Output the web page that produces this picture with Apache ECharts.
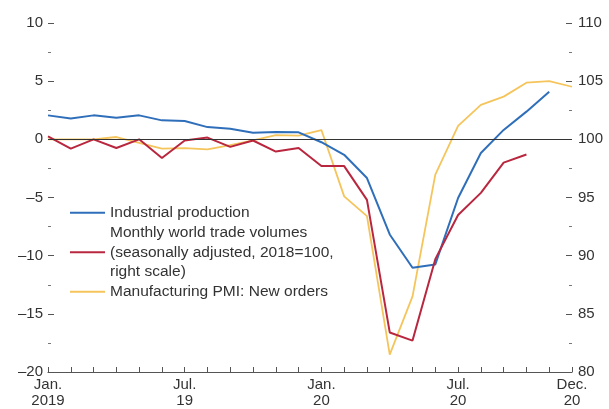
<!DOCTYPE html>
<html>
<head>
<meta charset="utf-8">
<script src="https://cdn.jsdelivr.net/npm/echarts@6/dist/echarts.min.js"></script>
<style>
html,body{margin:0;padding:0;background:#fff;}
#c{width:609px;height:409px;}
</style>
</head>
<body>
<div id="c"></div>
<script>
// Categories: Jan 2019 .. Dec 2020 (monthly)
var months = ['2019-01','2019-02','2019-03','2019-04','2019-05','2019-06','2019-07','2019-08','2019-09','2019-10','2019-11','2019-12',
              '2020-01','2020-02','2020-03','2020-04','2020-05','2020-06','2020-07','2020-08','2020-09','2020-10','2020-11','2020-12'];
// Tick labels shown on the x axis (by category index)
var xTickLabels = {0:'Jan.\n2019', 6:'Jul.\n19', 12:'Jan.\n20', 18:'Jul.\n20', 23:'Dec.\n20'};
// Series values
var industrial = [2.06,1.8,2.06,1.86,2.06,1.63,1.57,1.05,0.91,0.57,0.63,0.6,-0.25,-1.33,-3.33,-8.18,-11.04,-10.75,-5.04,-1.18,0.81,2.38,4.1,null];
var trade = [100.25,99.2,100,99.25,100,98.4,99.9,100.15,99.35,99.9,98.95,99.25,97.7,97.7,94.8,83.4,82.7,89.7,93.5,95.4,98.0,98.7,null,null];
var pmi = [0,0,0,0.2,-0.3,-0.8,-0.75,-0.86,-0.5,-0.1,0.37,0.32,0.8,-4.9,-6.6,-18.5,-13.5,-3.04,1.16,2.96,3.67,4.87,5.01,4.52];
// Series names (legend)
var names = ['Industrial production',
             'Monthly world trade volumes\n(seasonally adjusted, 2018=100,\nright scale)',
             'Manufacturing PMI: New orders'];

var FONT = '"Liberation Sans", Arial, Helvetica, sans-serif';
var TXT = '#333';
function minus(v){ return String(v).replace('-', '\u2013'); }

var chart = echarts.init(document.getElementById('c'));
chart.setOption({
  animation: false,
  backgroundColor: '#fff',
  grid: {left: 48, right: 37, top: 23, bottom: 36, containLabel: false},
  legend: {
    show: true, orient: 'vertical', left: 65, top: 198,
    itemWidth: 35, itemHeight: 2, itemGap: 0.5,
    icon: 'rect',
    textStyle: {fontFamily: FONT, fontSize: 15.5, lineHeight: 19.5, color: TXT},
    data: names
  },
  xAxis: {
    type: 'category', data: months, boundaryGap: false,
    axisLine: {show: true, onZero: false, lineStyle: {color: '#555', width: 1.2}},
    axisTick: {show: true, inside: true, length: 5, interval: 0, lineStyle: {color: '#555', width: 1}},
    axisLabel: {
      interval: 0, margin: 5, fontFamily: FONT, fontSize: 15, lineHeight: 16, color: TXT,
      formatter: function(v, i){ return xTickLabels[i] || ''; }
    },
    splitLine: {show: false}
  },
  yAxis: [{
    type: 'value', min: -20, max: 10, interval: 5, position: 'left',
    axisLine: {show: false},
    axisTick: {show: true, inside: true, length: 6, lineStyle: {color: '#555', width: 1}},
    minorTick: {show: true, splitNumber: 2, length: 3, lineStyle: {color: '#777', width: 1}},
    axisLabel: {margin: 5, fontFamily: FONT, fontSize: 15, color: TXT, formatter: minus},
    splitLine: {show: false}, minorSplitLine: {show: false}
  },{
    type: 'value', min: 80, max: 110, interval: 5, position: 'right',
    axisLine: {show: false},
    axisTick: {show: true, inside: true, length: 6, lineStyle: {color: '#555', width: 1}},
    minorTick: {show: true, splitNumber: 2, length: 3, lineStyle: {color: '#777', width: 1}},
    axisLabel: {margin: 6, fontFamily: FONT, fontSize: 15, color: TXT},
    splitLine: {show: false}, minorSplitLine: {show: false}
  }],
  series: [{
    name: names[2], type: 'line', data: pmi, yAxisIndex: 0,
    showSymbol: false, symbol: 'none', lineStyle: {color: '#f5c55c', width: 1.8}, itemStyle: {color: '#f5c55c'},
    z: 2
  },{
    name: names[0], type: 'line', data: industrial, yAxisIndex: 0,
    showSymbol: false, symbol: 'none', lineStyle: {color: '#2f6fba', width: 2}, itemStyle: {color: '#2f6fba'},
    z: 3,
    markLine: {silent: true, symbol: 'none', label: {show: false},
      lineStyle: {color: '#333', width: 1.2, type: 'solid'}, data: [{yAxis: 0}]}
  },{
    name: names[1], type: 'line', data: trade, yAxisIndex: 1,
    showSymbol: false, symbol: 'none', lineStyle: {color: '#b9273f', width: 2}, itemStyle: {color: '#b9273f'},
    z: 4
  }]
});
</script>
</body>
</html>
